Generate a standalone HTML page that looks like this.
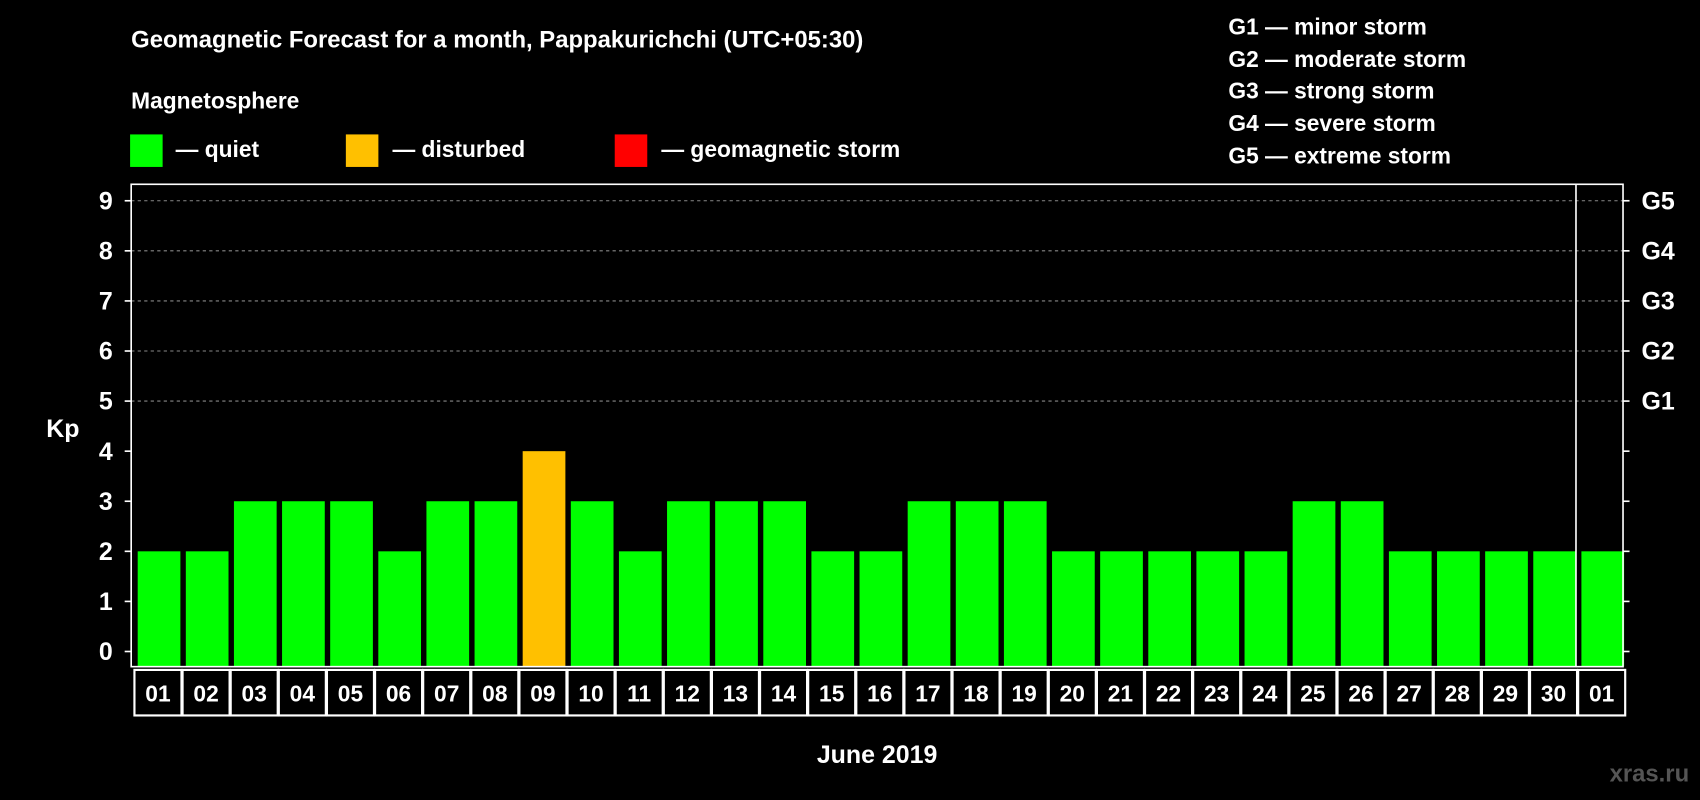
<!DOCTYPE html>
<html><head><meta charset="utf-8"><style>
html,body{margin:0;padding:0;background:#000;}
svg{display:block;font-family:"Liberation Sans",Arial,sans-serif;font-weight:bold;}
</style></head><body>
<svg width="1700" height="800" viewBox="0 0 1568 738" preserveAspectRatio="none">
<rect width="1568" height="738" fill="#000"/>
<text x="121" y="44" fill="#fff" font-size="22">Geomagnetic Forecast for a month, Pappakurichchi (UTC+05:30)</text>
<text x="121" y="100" fill="#fff" font-size="21">Magnetosphere</text>
<g><rect x="120" y="124" width="30" height="30" fill="#00ff00"/><text x="162" y="145" fill="#fff" font-size="21">— quiet</text></g>
<g><rect x="319" y="124" width="30" height="30" fill="#ffc000"/><text x="362" y="145" fill="#fff" font-size="21">— disturbed</text></g>
<g><rect x="567" y="124" width="30" height="30" fill="#ff0000"/><text x="610" y="145" fill="#fff" font-size="21">— geomagnetic storm</text></g>
<g fill="#fff" font-size="21">
<text x="1133" y="32">G1 — minor storm</text>
<text x="1133" y="62">G2 — moderate storm</text>
<text x="1133" y="91">G3 — strong storm</text>
<text x="1133" y="121">G4 — severe storm</text>
<text x="1133" y="151">G5 — extreme storm</text>
</g>
<text x="58" y="403" fill="#fff" font-size="23" text-anchor="middle">Kp</text>
<text x="809" y="704" fill="#fff" font-size="23" text-anchor="middle">June 2019</text>
<text x="1558" y="721" fill="#555" font-size="22" text-anchor="end">xras.ru</text>
<g id="plot"></g>
</svg>
<script>
const labels=["01","02","03","04","05","06","07","08","09","10","11","12","13","14","15","16","17","18","19","20","21","22","23","24","25","26","27","28","29","30","01"];
const kp=[2,2,3,3,3,2,3,3,4,3,2,3,3,3,2,2,3,3,3,2,2,2,2,2,3,3,2,2,2,2,2];
const yTicks=[0,1,2,3,4,5,6,7,8,9];
const gLabels=["G1","G2","G3","G4","G5"];
const NS="http://www.w3.org/2000/svg";
const L=121,R=1497,T=170,B=615,y0=601,yk=46.2;
const step=(R-L)/labels.length;
const y=v=>y0-v*yk;
const xs=i=>L+i*step;
const plot=document.getElementById('plot');
function mk(tag,attrs,parent){const e=document.createElementNS(NS,tag);for(const k in attrs)e.setAttribute(k,attrs[k]);(parent||plot).appendChild(e);return e;}
// grid
[5,6,7,8,9].forEach(v=>{const g=mk('line',{x1:L,x2:R,y1:y(v),y2:y(v),stroke:'#888','stroke-dasharray':'3,3','stroke-width':1});

});
// bars
kp.forEach((v,i)=>{const r=mk('rect',{x:xs(i)+6,width:step-5,y:y(v),height:B-y(v),fill:v>=5?'#ff0000':(v>=4?'#ffc000':'#00ff00')});

});
// frame
const fr=mk('rect',{x:L,y:T,width:R-L,height:B-T,fill:'none',stroke:'#fff','stroke-width':1.5});


const sep=mk('line',{x1:xs(30)+1,x2:xs(30)+1,y1:T,y2:B,stroke:'#fff','stroke-width':1.5});


// ticks
yTicks.forEach(v=>{
 mk('line',{x1:L-6,x2:L,y1:y(v),y2:y(v),stroke:'#fff','stroke-width':1.5});
 mk('line',{x1:R,x2:R+6,y1:y(v),y2:y(v),stroke:'#fff','stroke-width':1.5});
 const t=mk('text',{x:104,y:y(v)+8,fill:'#fff','font-size':23,'text-anchor':'end'});t.textContent=v;
 
 
});
gLabels.forEach((g,i)=>{const t=mk('text',{x:1514,y:y(5+i)+8,fill:'#fff','font-size':23});t.textContent=g;

});
// date cells
labels.forEach((d,i)=>{
 const c=mk('rect',{x:xs(i)+3,y:618,width:step-1,height:42,fill:'none',stroke:'#fff','stroke-width':2});
 
 
 const t=mk('text',{x:xs(i)+3+(step-1)/2,y:647,fill:'#fff','font-size':21,'text-anchor':'middle'});t.textContent=d;
 
 
});
</script>
</body></html>
